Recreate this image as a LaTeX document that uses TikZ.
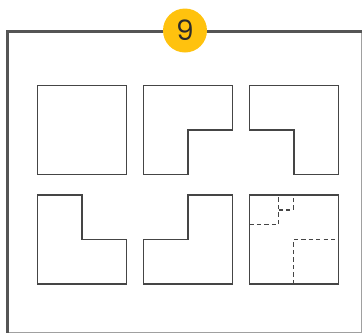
\documentclass[tikz,border=0pt]{standalone}
\usepackage{fontspec}
\newfontfamily\badgefont{Poppins}
\usepackage{tikz}
\definecolor{framegray}{HTML}{555555}
\definecolor{edgegray}{HTML}{A0A0A0}
\definecolor{piecegray}{HTML}{454545}
\definecolor{badgeyellow}{HTML}{FFC20E}
\definecolor{digitgray}{HTML}{2B2B2B}
\tikzset{
  piece/.style={draw=piecegray,line width=1.35pt,line join=miter},
  cutline/.style={draw=piecegray,line width=1.1pt,dash pattern=on 3.2pt off 2.4pt},
}

\begin{document}
\begin{tikzpicture}[x=0.75pt,y=-0.75pt]
\useasboundingbox (0,0) rectangle (362,333);
% frame
\draw[edgegray,line width=0.8pt] (7.5,332.3) -- (361.6,332.3) -- (361.6,31.5);
\draw[framegray,line width=2.6pt] (7.5,333) -- (7.5,31.5) -- (362,31.5);
% top row
\draw[piece] (37.5,85.5) rectangle (126.5,174.5);
\draw[piece] (143.5,85.5) -- (232.5,85.5) -- (232.5,130) -- (188,130) -- (188,174.5) -- (143.5,174.5) -- cycle;
\draw[piece] (249.5,85.5) -- (338.5,85.5) -- (338.5,174.5) -- (294,174.5) -- (294,130) -- (249.5,130) -- cycle;
% bottom row
\draw[piece] (37.5,195) -- (82,195) -- (82,239.5) -- (126.5,239.5) -- (126.5,284) -- (37.5,284) -- cycle;
\draw[piece] (188,195) -- (232.5,195) -- (232.5,284) -- (143.5,284) -- (143.5,239.5) -- (188,239.5) -- cycle;
\draw[piece] (249.5,195) rectangle (338.5,284);
\draw[cutline] (249.5,224.7) -- (278.7,224.7) -- (278.7,195);
\draw[cutline] (278.7,209.8) -- (293.5,209.8) -- (293.5,195);
\draw[cutline] (293.5,284) -- (293.5,239.5) -- (338.5,239.5);
% badge
\node[circle,fill=badgeyellow,minimum size=33pt,inner sep=0pt,
  font=\badgefont\fontsize{21}{21}\selectfont,text=digitgray] (badge) at (185,30.5) {9};
\end{tikzpicture}
\end{document}
